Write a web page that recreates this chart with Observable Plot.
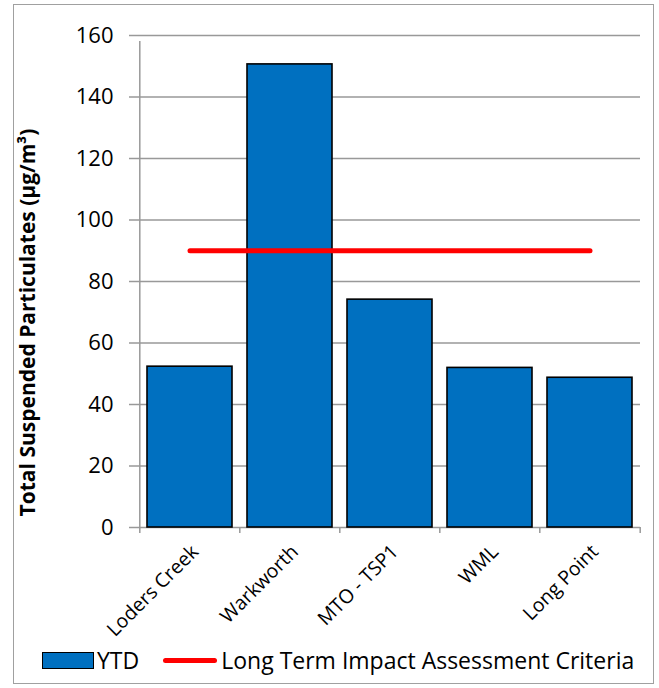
<!DOCTYPE html>
<html>
<head>
<meta charset="utf-8">
<script src="https://cdn.jsdelivr.net/npm/d3@7"></script>
<script src="https://cdn.jsdelivr.net/npm/@observablehq/plot@0.6"></script>
<style>
  html, body { margin: 0; padding: 0; background: #fff; }
  #wrap { position: relative; width: 659px; height: 688px; font-family: "Open Sans", sans-serif; }
  #border { position: absolute; left: 13px; top: 4px; width: 641px; height: 680px; border: 1px solid #a0a0a0; box-sizing: border-box; pointer-events: none; }
  #chart { position: absolute; left: 0; top: 0; }
  #legend { position: absolute; left: 42px; top: 644px; display: flex; align-items: center; font-size: 23px; color: #000; white-space: nowrap; }
  .sw-bar { width: 52px; height: 17px; background: #0070C0; border: 1.5px solid #000; box-sizing: border-box; margin-right: 3px; }
  .sw-line { width: 54px; height: 5px; background: #ff0000; border-radius: 3px; margin: 0 4px 0 24px; }
</style>
</head>
<body>
<div id="wrap">
  <div id="chart"></div>
  <div id="border"></div>
  <div id="legend">
    <div class="sw-bar"></div><span>YTD</span>
    <div class="sw-line"></div><span>Long Term Impact Assessment Criteria</span>
  </div>
</div>
<script>
// Monitoring stations and their year-to-date TSP averages
const stations = ["Loders Creek", "Warkworth", "MTO - TSP1", "WML", "Long Point"];
const ytd = [52.3, 150.6, 74.1, 51.9, 48.7];
const criteria = [90, 90, 90, 90, 90];
const yTicks = [0, 20, 40, 60, 80, 100, 120, 140, 160];
const yTitle = "Total Suspended Particulates (μg/m³)";

const bars = stations.map((s, i) => ({station: s, value: ytd[i]}));
const limit = stations.map((s, i) => ({station: s, value: criteria[i]}));

const W = 659, H = 688;
const mL = 138, mR = 19, mT = 35, mB = 161;
const step = (W - mL - mR) / stations.length;

const chart = Plot.plot({
  width: W,
  height: H,
  marginLeft: mL,
  marginRight: mR,
  marginTop: mT,
  marginBottom: mB,
  style: {fontFamily: "Open Sans, sans-serif", fontSize: "22px", color: "#000", background: "transparent"},
  x: {domain: stations, paddingInner: 0.15, paddingOuter: 0.075, label: null},
  y: {domain: [0, 160], label: null},
  marks: [
    // horizontal gridlines
    Plot.ruleY(yTicks, {stroke: "#999", strokeWidth: 1.5}),
    // category boundary ticks below the baseline
    Plot.ruleX(stations, {x: d => d, dx: -step / 2, y1: 0, y2: 0, insetBottom: -6, stroke: "#999", strokeWidth: 1.5}),
    Plot.ruleX(stations.slice(-1), {x: d => d, dx: step / 2, y1: 0, y2: 0, insetBottom: -6, stroke: "#999", strokeWidth: 1.5}),
    // vertical axis line
    Plot.ruleX([stations[0]], {x: d => d, dx: -step / 2, y1: 0, y2: 160, insetBottom: -6, stroke: "#999", strokeWidth: 1.5}),
    Plot.axisY({ticks: yTicks, tickSize: 9, tickPadding: 16, stroke: "#999", strokeWidth: 1.5, fontSize: 22, label: null, tickFormat: d => d}),
    Plot.axisX({tickSize: 0, tickRotate: -45, tickPadding: 21, dx: 5, fontSize: 19.5, label: null}),
    Plot.barY(bars, {x: "station", y: "value", fill: "#0070C0", stroke: "#000", strokeWidth: 1.6}),
    Plot.line(limit, {x: "station", y: "value", stroke: "#ff0000", strokeWidth: 5, strokeLinecap: "round"}),
    Plot.text([yTitle], {frameAnchor: "left", textAnchor: "middle", rotate: -90, dx: -110, dy: 41, fontWeight: "bold", fontSize: 21, text: d => d})
  ]
});
document.getElementById("chart").appendChild(chart);
</script>
</body>
</html>
